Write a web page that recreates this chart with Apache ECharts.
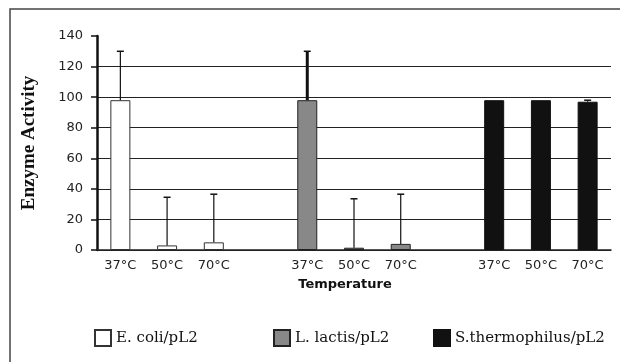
<!DOCTYPE html>
<html>
<head>
<meta charset="utf-8">
<script src="https://cdn.jsdelivr.net/npm/echarts@6/dist/echarts.min.js"></script>
<style>
  html, body { margin: 0; padding: 0; background: #fff; }
  #chart { width: 620px; height: 362px; }
</style>
</head>
<body>
<div id="chart"></div>
<script>
// data
var temps = ['37°C', '50°C', '70°C', '', '37°C', '50°C', '70°C', '', '37°C', '50°C', '70°C'];
var ecoli = [98, 3, 5, '-', '-', '-', '-', '-', '-', '-', '-'];
var lactis = ['-', '-', '-', '-', 98, 1.5, 4, '-', '-', '-', '-'];
var sthermo = ['-', '-', '-', '-', '-', '-', '-', '-', 98, 98, 97];
var errTop = [130, 34.5, 36.5, '-', 130, 33.5, 36.5, '-', '-', '-', 98];
var yTicks = [0, 20, 40, 60, 80, 100, 120, 140];

var chart = echarts.init(document.getElementById('chart'));

// bar heights under each error bar
var errData = [];
for (var i = 0; i < temps.length; i++) {
    if (errTop[i] === '-') continue;
    var base = [ecoli[i], lactis[i], sthermo[i]].filter(function (v) { return v !== '-'; })[0];
    errData.push([i, base, errTop[i]]);
}

var option = {
    animation: false,
    grid: { left: 97, right: 9, top: 36, bottom: 112 },
    graphic: [{
        type: 'rect',
        shape: { x: 10, y: 9, width: 700, height: 500 },
        style: { fill: 'none', stroke: '#444', lineWidth: 1.5 },
        z: -1
    }],
    legend: [
        { data: ['E. coli/pL2'], left: 89, top: 324 },
        { data: ['L. lactis/pL2'], left: 268, top: 324 },
        { data: ['S.thermophilus/pL2'], left: 428, top: 324 }
    ].map(function (l) {
        l.icon = 'rect';
        l.itemWidth = 16;
        l.itemHeight = 16;
        l.itemGap = 4;
        l.textStyle = { fontFamily: 'DejaVu Serif', fontSize: 15, color: '#111' };
        return l;
    }),
    xAxis: {
        type: 'category',
        data: temps,
        name: 'Temperature',
        nameLocation: 'middle',
        nameGap: 28,
        nameTextStyle: { fontFamily: 'DejaVu Sans', fontWeight: 'bold', fontSize: 13, color: '#111', padding: [0, 18, 0, 0] },
        axisLine: { lineStyle: { color: '#222', width: 1.5 } },
        axisTick: { show: false },
        axisLabel: { interval: 0, margin: 9, fontFamily: 'DejaVu Sans', fontSize: 13, color: '#222' }
    },
    yAxis: {
        type: 'value',
        min: 0,
        max: 140,
        interval: 20,
        name: 'Enzyme Activity',
        nameLocation: 'middle',
        nameRotate: 90,
        nameGap: 58,
        nameTextStyle: { fontFamily: 'Liberation Serif', fontWeight: 'bold', fontSize: 19, color: '#111' },
        axisLine: { show: true, lineStyle: { color: '#111', width: 2.5 } },
        axisTick: { show: true, length: 6, lineStyle: { color: '#111', width: 1.5 } },
        axisLabel: {
            margin: 14, fontFamily: 'DejaVu Sans', fontSize: 13, color: '#222',
            formatter: function (v) { return yTicks.indexOf(v) >= 0 ? v : ''; }
        },
        splitLine: { show: true, showMaxLine: false, lineStyle: { color: '#222', width: 1.2 } }
    },
    series: [{
        name: 'E. coli/pL2',
        type: 'bar',
        data: ecoli,
        barWidth: 20,
        barGap: '-100%',
        itemStyle: { color: '#fff', borderColor: '#333', borderWidth: 1 }
    }, {
        name: 'L. lactis/pL2',
        type: 'bar',
        data: lactis,
        barWidth: 20,
        barGap: '-100%',
        itemStyle: { color: '#888', borderColor: '#222', borderWidth: 1 }
    }, {
        name: 'S.thermophilus/pL2',
        type: 'bar',
        data: sthermo,
        barWidth: 20,
        barGap: '-100%',
        itemStyle: { color: '#111', borderColor: '#111', borderWidth: 1 }
    }, {
        type: 'custom',
        data: errData,
        z: 5,
        renderItem: function (params, api) {
            var x = api.value(0);
            var lo = api.coord([x, api.value(1)]);
            var hi = api.coord([x, api.value(2)]);
            var thick = api.value(0) === 4 ? 3 : 1.2;
            return {
                type: 'group',
                children: [{
                    type: 'line',
                    shape: { x1: lo[0], y1: lo[1], x2: hi[0], y2: hi[1] },
                    style: { stroke: '#111', lineWidth: thick }
                }, {
                    type: 'line',
                    shape: { x1: hi[0] - 3.5, y1: hi[1], x2: hi[0] + 3.5, y2: hi[1] },
                    style: { stroke: '#111', lineWidth: 1.5 }
                }]
            };
        }
    }]
};

chart.setOption(option);
</script>
</body>
</html>
